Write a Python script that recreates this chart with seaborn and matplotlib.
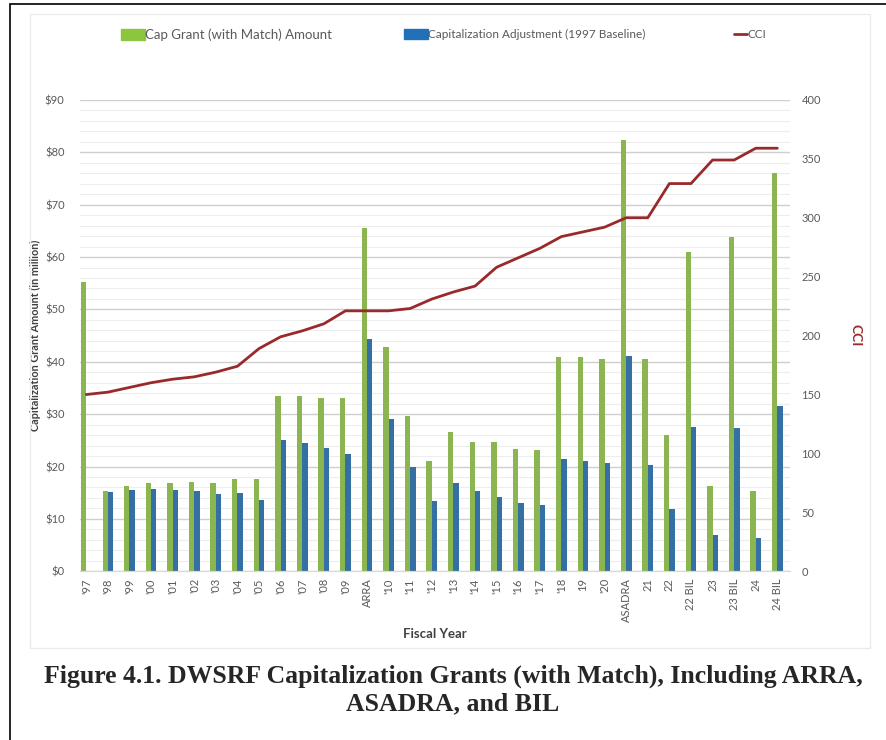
import numpy as np
import pandas as pd
import matplotlib
matplotlib.use("Agg")
import matplotlib.pyplot as plt
from matplotlib.patches import Patch, Rectangle
from matplotlib.lines import Line2D
from matplotlib.ticker import MultipleLocator, StrMethodFormatter
import seaborn as sns

# Fiscal years (category labels as printed on the chart)
years = ["'97", "'98", "'99", "'00", "'01", "'02", "'03", "'04", "'05", "'06",
         "'07", "'08", "'09", "ARRA", "'10", "'11", "'12", "'13", "'14", "'15",
         "'16", "'17", "'18", "19", "'20", "ASADRA", "21", "22", "22 BIL", "23",
         "23 BIL", "24", "24 BIL"]

# Cap grant (with match) amount, $ million
cap_grant = [55.3, 15.3, 16.3, 16.9, 16.9, 17.0, 16.9, 17.6, 17.6, 33.4,
             33.4, 33.0, 33.0, 65.6, 42.9, 29.7, 21.1, 26.6, 24.7, 24.6,
             23.3, 23.1, 40.9, 40.9, 40.5, 82.4, 40.6, 26.1, 60.9, 16.3,
             63.8, 15.3, 76.0]

# Capitalization adjustment (1997 baseline), $ million
cap_adjust = [np.nan, 15.1, 15.6, 15.8, 15.6, 15.3, 14.8, 15.0, 13.7, 25.1,
              24.4, 23.5, 22.4, 44.4, 29.0, 20.0, 13.5, 16.9, 15.3, 14.2,
              13.1, 12.6, 21.5, 21.1, 20.6, 41.1, 20.2, 11.8, 27.5, 6.9,
              27.4, 6.4, 31.5]

# Construction cost index
cci = [150, 152, 156, 160, 163, 165, 169, 174, 189, 199,
       204, 210, 221, 221, 221, 223, 231, 237, 242, 258,
       266, 274, 284, 288, 292, 300, 300, 329, 329, 349,
       349, 359, 359]

series_names = ["Cap Grant (with Match) Amount", "Capitalization Adjustment (1997 Baseline)"]
GREEN = "#8cc63f"
BLUE = "#2271b8"
RED = "#992a2c"
GRAY = "#595959"

df = pd.DataFrame({
    "Fiscal Year": years * 2,
    "Amount": cap_grant + cap_adjust,
    "Series": [series_names[0]] * len(years) + [series_names[1]] * len(years),
})

sns.set_style("white")
plt.rcParams["font.family"] = ["Lato", "DejaVu Sans"]

fig = plt.figure(figsize=(8.87, 7.40), dpi=100)
ax = fig.add_axes([0.090, 0.228, 0.801, 0.637])

sns.barplot(data=df, x="Fiscal Year", y="Amount", hue="Series", order=years,
            palette=[GREEN, BLUE], width=0.5, gap=0, linewidth=0,
            errorbar=None, legend=False, ax=ax)

ax2 = ax.twinx()
sns.lineplot(x=np.arange(len(years)), y=cci, color=RED, linewidth=2, ax=ax2)

ax.set_xlim(-0.3, len(years) - 0.4)
ax.set_ylim(0, 90)
ax2.set_ylim(0, 400)

ax.yaxis.set_major_locator(MultipleLocator(10))
ax.yaxis.set_minor_locator(MultipleLocator(2))
ax.yaxis.set_major_formatter(StrMethodFormatter("${x:.0f}"))
ax2.yaxis.set_major_locator(MultipleLocator(50))

ax.set_axisbelow(True)
ax.grid(axis="y", which="major", color="#cfcfcf", linewidth=1)
ax.grid(axis="y", which="minor", color="#ededed", linewidth=0.8)

for a in (ax, ax2):
    for side in ["top", "right", "left"]:
        a.spines[side].set_visible(False)
    a.spines["bottom"].set_color("#d9d9d9")
    a.tick_params(which="both", length=0, colors=GRAY, labelsize=8)

ax.tick_params(axis="x", rotation=90, pad=5)
ax.tick_params(axis="y", pad=11)
ax2.tick_params(axis="y", pad=8)

ax.set_xlabel("Fiscal Year", fontsize=9.5, fontweight="bold", color="#404040", labelpad=4)
ax.set_ylabel("Capitalization Grant Amount (in million)", fontsize=7.8,
              fontweight="bold", color="#404040", labelpad=3)
ax2.set_ylabel("CCI", fontsize=10, fontweight="bold", color=RED,
               rotation=270, labelpad=29)

# legend entries laid out across the top
handles = [Patch(color=GREEN), Patch(color=BLUE), Line2D([], [], color=RED, lw=2)]
labels = series_names + ["CCI"]
xs = [0.129, 0.449, 0.821]
sizes = [9.5, 8.5, 8.5]
hlens = [2.0, 2.0, 1.1]
for h, l, x, s, hl in zip(handles, labels, xs, sizes, hlens):
    fig.legend([h], [l], loc="center left", bbox_to_anchor=(x, 0.953),
               frameon=False, fontsize=s, handlelength=hl * 8.5 / s, handleheight=0.9,
               handletextpad=0.05, labelcolor=GRAY, borderpad=0)

# faint chart frame and outer page border
fig.patches.append(Rectangle((30 / 887, 1 - 648 / 740), 840 / 887, 634 / 740,
                             transform=fig.transFigure, fill=False,
                             edgecolor="#ebebeb", linewidth=1))
fig.patches.append(Rectangle((10 / 887, -0.1), 1.2, 1.1 - 4 / 740,
                             transform=fig.transFigure, fill=False,
                             edgecolor="black", linewidth=1.2))

fig.text(453 / 887, 1 - 690 / 740,
         "Figure 4.1. DWSRF Capitalization Grants (with Match), Including ARRA,\nASADRA, and BIL",
         ha="center", va="center", family="Liberation Serif", fontweight="bold",
         fontsize=18.5, linespacing=1.25)

fig.savefig("out.png", dpi=100)
